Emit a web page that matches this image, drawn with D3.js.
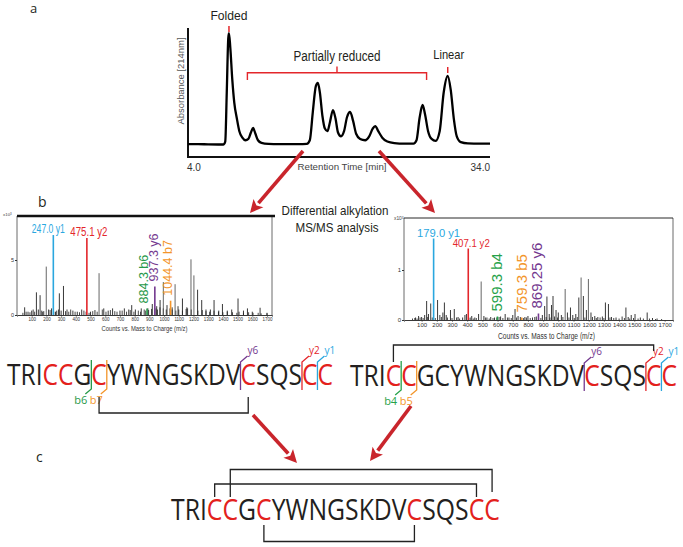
<!DOCTYPE html>
<html><head><meta charset="utf-8">
<script src="https://cdn.jsdelivr.net/npm/d3@7"></script>
<style>body{margin:0;background:#fff}svg{display:block}</style>
</head><body>
<svg id="fig" width="683" height="547"></svg>
<script>
// ---------------- DATA ----------------
// Panel a: chromatogram trace (retention time [min], absorbance, relative)
const chromTime = [4,5,6,7,7.5,7.7,7.85,8.0,8.07,8.2,8.4,8.6,8.85,9.1,9.4,9.7,10.0,10.25,10.46,10.7,10.95,11.3,12,13,14,15,15.8,16.1,16.4,16.7,16.9,17.1,17.35,17.6,17.85,18.1,18.4,18.65,18.9,19.2,19.5,19.8,20.1,20.4,20.7,21.1,21.6,22.0,22.35,22.6,22.9,23.3,23.8,24.5,25.5,26.4,26.7,27.0,27.3,27.55,27.85,28.2,28.6,29.0,29.4,29.8,30.1,30.4,30.7,31.1,31.8,33,34];
const chromAbs  = [0.10,0.10,0.098,0.097,0.097,0.12,0.5,0.92,0.96,0.85,0.6,0.42,0.3,0.2,0.15,0.13,0.14,0.19,0.225,0.18,0.13,0.11,0.102,0.10,0.10,0.10,0.102,0.13,0.35,0.55,0.574,0.5,0.32,0.22,0.2,0.27,0.364,0.3,0.19,0.16,0.2,0.31,0.349,0.28,0.18,0.14,0.13,0.16,0.22,0.24,0.2,0.15,0.12,0.108,0.104,0.104,0.13,0.3,0.403,0.33,0.2,0.14,0.125,0.2,0.5,0.628,0.52,0.3,0.16,0.115,0.105,0.103,0.103];
const chromTickLabels = ["4.0","34.0"];
const foldedTime = 8.07, linearTime = 29.8, partialRange = [9.9, 27.7];

// Panel b: MS/MS spectra (m/z, counts x10^3)
const leftPeakMz = [52,75,100,132,145,157,175,199,215,235,262,288,300,316,340,380,410,440,500,530,558,590,620,650,700,730,760,780,805,845,890,920,950,973,995,1020,1055,1075,1095,1125,1155,1183,1203,1228,1256,1285,1315,1340,1372,1397,1430,1460,1503,1540,1567,1600,1653,1700];
const leftPeakH  = [0.7,0.3,0.4,2.06,0.5,1.8,0.3,4.4,0.5,0.6,0.3,1.97,0.4,2.64,0.5,0.4,0.3,0.5,0.3,0.45,3.8,0.6,0.4,0.6,0.4,0.6,0.5,0.9,0.5,0.6,0.6,1.0,0.8,1.36,3.0,0.9,0.7,2.8,0.8,1.5,0.7,5.06,3.6,2.3,1.36,0.5,0.5,1.36,0.4,1.0,0.4,0.5,1.5,0.4,0.6,0.3,0.66,0.2];
const leftNoiseMz = [40,62,88,110,120,168,182,225,250,270,282,330,352,365,395,425,455,470,490,515,545,580,605,635,665,680,715,745,770,795,825,840,865,875,895,915,945,955,972,995,1015,1040,1055,1080,1100,1125,1150,1160,1185,1230,1260,1285,1310,1340,1370,1400,1430,1465,1495,1510,1540,1575,1605,1640,1660,1700];
const leftNoiseH  = [0.2,0.3,0.25,0.5,0.3,0.4,0.35,0.45,0.3,0.4,0.5,0.35,0.3,0.5,0.3,0.25,0.4,0.3,0.2,0.35,0.3,0.5,0.3,0.45,0.35,0.3,0.4,0.3,0.45,0.3,0.4,0.3,0.5,0.4,0.45,0.55,0.6,0.5,0.7,0.6,0.5,0.6,0.5,0.4,0.5,0.4,0.55,0.6,0.5,0.4,0.45,0.35,0.3,0.4,0.3,0.25,0.3,0.25,0.2,0.3,0.2,0.25,0.2,0.2,0.15,0.15];
const leftIonMz    = [247.0, 475.1, 884.3, 937.3, 1044.4];
const leftIonH     = [7.27, 7.0, 0.6, 2.6, 1.3];
const leftIonName  = ["y1","y2","b6","y6","b7"];
const leftIonLabel = ["247.0 y1","475.1 y2","884.3 b6","937.3 y6","1044.4 b7"];

const rightPeakMz = [60,80,100,120,133,145,160,205,220,240,250,262,290,315,340,370,385,395,430,450,475,492,510,530,555,580,620,650,675,700,715,735,780,800,830,855,895,910,925,940,955,965,985,1000,1020,1045,1060,1080,1095,1115,1135,1150,1165,1185,1198,1215,1240,1260,1290,1310,1330,1350,1380,1420,1445,1460,1480,1505,1540,1585,1620,1650];
const rightPeakH  = [0.05,0.08,0.06,0.1,0.38,0.12,0.33,0.4,0.1,0.15,0.35,0.1,0.2,0.22,0.06,0.05,0.1,0.12,0.08,0.05,0.12,0.77,0.08,0.05,0.06,0.05,0.07,0.12,0.05,0.1,0.22,0.08,0.06,0.08,0.05,0.07,0.1,0.28,0.47,0.12,0.3,0.48,0.2,0.15,0.1,0.62,0.15,0.25,0.1,0.12,0.45,0.85,0.48,0.2,0.82,0.15,0.08,0.06,0.07,0.35,0.32,0.06,0.05,0.07,0.25,0.06,0.1,0.12,0.05,0.15,0.04,0.03];
const rightNoiseMz = [40,55,70,90,110,140,170,190,230,270,300,330,350,410,420,440,460,520,545,570,595,610,635,665,690,725,750,770,790,815,845,870,885,920,945,975,995,1030,1070,1105,1125,1175,1225,1250,1275,1300,1340,1365,1400,1435,1470,1495,1525,1560,1600,1640,1680];
const rightNoiseH  = [0.03,0.04,0.03,0.05,0.04,0.06,0.05,0.04,0.06,0.05,0.04,0.05,0.03,0.04,0.05,0.03,0.04,0.05,0.03,0.04,0.05,0.06,0.04,0.05,0.04,0.05,0.06,0.04,0.05,0.04,0.06,0.05,0.04,0.06,0.05,0.07,0.05,0.06,0.05,0.04,0.06,0.05,0.06,0.04,0.05,0.04,0.05,0.04,0.03,0.04,0.03,0.04,0.03,0.03,0.03,0.02,0.02];
const rightIonMz    = [179.0, 407.1, 599.3, 759.3, 869.25];
const rightIonH     = [1.63, 1.43, 0.07, 0.05, 0.13];
const rightIonName  = ["y1","y2","b4","b5","y6"];
const rightIonLabel = ["179.0 y1","407.1 y2","599.3 b4","759.3 b5","869.25 y6"];

const mzTicks = [100,200,300,400,500,600,700,800,900,1000,1100,1200,1300,1400,1500,1600,1700];
const leftYTicks = [0,5], rightYTicks = [0,1];

// Peptide sequence and fragments
const sequence = "TRICCGCYWNGSKDVCSQSCC";
const leftRed  = [3,4,6,15,19,20];
const rightRed = [3,4,15,19,20];
const bottomRed = [3,4,6,15,19,20];
const leftFragIon   = ["b6","b7","y6","y2","y1"];
const leftFragAfter = [5,6,14,18,19];
const rightFragIon   = ["b4","b5","y6","y2","y1"];
const rightFragAfter = [3,4,14,18,19];
const leftBonds   = [[6,15]];
const rightBonds  = [[3,19]];
const bottomBondsAbove = [[4,20],[3,19]];
const bottomBondsBelow = [[6,15]];

// ---------------- STYLE ----------------
const ionColor = {y1:"#2aa7df", y2:"#e3262b", y6:"#74398f", b4:"#27a24a", b5:"#f3952a", b6:"#27994a", b7:"#f3952a"};
const seqRed = "#e3211c", arrowRed = "#c9252c", annRed = "#e3262b", ink = "#231f20";
const FONT = "'Liberation Sans', Arial, sans-serif";
const SEQFONT = "'Open Sans', 'Liberation Sans', sans-serif";

const svg = d3.select("#fig");
svg.append("rect").attr("width",683).attr("height",547).attr("fill","#fff");

function txt(x,y,s,opt={}) {
  const t = svg.append("text").attr("x",x).attr("y",y).text(s)
    .style("font-family", opt.family||FONT).style("font-size",(opt.size||10)+"px")
    .attr("fill", opt.fill||ink).attr("text-anchor", opt.anchor||"start");
  if (opt.len) t.attr("textLength",opt.len).attr("lengthAdjust","spacingAndGlyphs");
  if (opt.rot) t.attr("transform",`rotate(${opt.rot},${x},${y})`);
  return t;
}

// panel labels
txt(30,13,"a",{size:13,family:SEQFONT});
txt(38,207,"b",{size:14,family:SEQFONT});
txt(36,462,"c",{size:14,family:SEQFONT});

// ---------------- PANEL A ----------------
const xT = d3.scaleLinear().domain([4,34]).range([188,490]);
const yA = d3.scaleLinear().domain([0,1]).range([157,28]);
svg.append("line").attr("x1",188).attr("x2",188).attr("y1",yA(1)).attr("y2",yA(0)).attr("stroke","#111").attr("stroke-width",2);
svg.append("line").attr("x1",187).attr("x2",xT(34)).attr("y1",yA(0)).attr("y2",yA(0)).attr("stroke","#111").attr("stroke-width",2);
const chromPts = chromTime.map((t,i)=>[t,chromAbs[i]]);
svg.append("path").datum(chromPts)
  .attr("d", d3.line().x(d=>xT(d[0])).y(d=>yA(d[1])).curve(d3.curveMonotoneX))
  .attr("fill","none").attr("stroke","#000").attr("stroke-width",2.3).attr("stroke-linejoin","round");
txt(xT(4)-1,171,chromTickLabels[0],{size:10,fill:"#333"});
txt(xT(34),171,chromTickLabels[1],{size:10,fill:"#333",anchor:"end"});
txt(342,170,"Retention Time [min]",{size:9.5,fill:"#444",anchor:"middle",len:89});
txt(184,81,"Absorbance [214nm]",{size:9.5,fill:"#555",anchor:"middle",len:87,rot:-90});
// annotations
txt(xT(foldedTime),20,"Folded",{size:13,anchor:"middle",len:37});
svg.append("line").attr("x1",xT(foldedTime)).attr("x2",xT(foldedTime)).attr("y1",26).attr("y2",32).attr("stroke",annRed).attr("stroke-width",1.5);
txt(xT(linearTime)+1,59,"Linear",{size:13,anchor:"middle",len:31});
svg.append("line").attr("x1",xT(linearTime)).attr("x2",xT(linearTime)).attr("y1",67).attr("y2",73).attr("stroke",annRed).attr("stroke-width",1.5);
const pr0 = xT(partialRange[0]), pr1 = xT(partialRange[1]), prm=(pr0+pr1)/2;
txt(prm,61,"Partially reduced",{size:14,anchor:"middle",len:87});
svg.append("path").attr("d",`M${pr0},80V72.7H${pr1}V80M${prm},72.7V66.5`).attr("fill","none").attr("stroke",annRed).attr("stroke-width",1.4);

// ---------------- ARROWS ----------------
function arrow(x1,y1,x2,y2){
  const a = Math.atan2(y2-y1,x2-x1), L=13, Wd=6.5;
  const bx = x2 - L*Math.cos(a), by = y2 - L*Math.sin(a);
  svg.append("line").attr("x1",x1).attr("y1",y1).attr("x2",bx).attr("y2",by).attr("stroke",arrowRed).attr("stroke-width",3.6);
  const p = [[x2,y2],[bx+Wd*Math.sin(a),by-Wd*Math.cos(a)],[bx+3*Math.cos(a),by+3*Math.sin(a)],[bx-Wd*Math.sin(a),by+Wd*Math.cos(a)]];
  svg.append("path").attr("d","M"+p.map(q=>q.join(",")).join("L")+"Z").attr("fill",arrowRed);
}
arrow(303,151,250,213);
arrow(379,151,435,213);
arrow(253,415,297,463);
arrow(411,406,370,461);

// ---------------- PANEL B: spectra ----------------
function spectrum(cfg){
  const x = d3.scaleLinear().domain(cfg.xd).range([cfg.x0,cfg.x1]);
  const y = d3.scaleLinear().domain([0,cfg.ymax]).range([cfg.y0,cfg.yTop]);
  svg.append("line").attr("x1",cfg.x0).attr("x2",cfg.x0).attr("y1",cfg.yTop).attr("y2",cfg.y0).attr("stroke","#444").attr("stroke-width",0.8);
  svg.append("line").attr("x1",cfg.x1).attr("x2",cfg.x1).attr("y1",cfg.yTop).attr("y2",cfg.y0).attr("stroke","#444").attr("stroke-width",0.8);
  svg.append("line").attr("x1",cfg.x0).attr("x2",cfg.topEnd).attr("y1",cfg.yTop).attr("y2",cfg.yTop).attr("stroke","#111").attr("stroke-width",cfg.topW);
  const g = svg.append("g");
  g.selectAll(".n").data(cfg.noiseMz).join("line").attr("x1",d=>x(d)).attr("x2",d=>x(d))
    .attr("y1",y(0)).attr("y2",(d,i)=>y(cfg.noiseH[i])).attr("stroke","#333").attr("stroke-width",0.9);
  g.selectAll(".p").data(cfg.peakMz).join("line").attr("x1",d=>x(d)).attr("x2",d=>x(d))
    .attr("y1",y(0)).attr("y2",(d,i)=>y(cfg.peakH[i])).attr("stroke",(d,i)=>cfg.peakH[i]>cfg.ymax*0.3?"#555":"#222").attr("stroke-width",0.9);
  cfg.ionMz.forEach((mz,i)=>{
    const c = ionColor[cfg.ionName[i]];
    svg.append("line").attr("x1",x(mz)).attr("x2",x(mz)).attr("y1",y(0)).attr("y2",y(cfg.ionH[i])).attr("stroke",c).attr("stroke-width",1.6);
    const horiz = cfg.ionName[i]==="y1"||cfg.ionName[i]==="y2";
    if (horiz) {
      const t = txt(x(mz)+cfg.hOff[i], y(cfg.ionH[i])-2, cfg.ionLabel[i], {size:cfg.hSize, fill:c, anchor:"middle"});
      if (cfg.hLen) t.attr("textLength",cfg.hLen[i]).attr("lengthAdjust","spacingAndGlyphs");
    } else {
      txt(x(mz)+cfg.rOff[i], y(cfg.ionH[i])-5, cfg.ionLabel[i], {size:cfg.rSize, fill:c, rot:-90});
    }
  });
  const ax = svg.append("g").attr("transform",`translate(0,${cfg.y0})`)
    .call(d3.axisBottom(x).tickValues(mzTicks).tickSize(1.5).tickPadding(1).tickFormat(d3.format("d")));
  ax.select(".domain").attr("stroke","#222").attr("stroke-width",0.9);
  ax.selectAll("text").style("font-size",cfg.tickSize+"px").style("font-family",FONT).attr("fill","#333");
  ax.selectAll("line").attr("stroke","#333");
  const ay = svg.append("g").attr("transform",`translate(${cfg.x0},0)`)
    .call(d3.axisLeft(y).tickValues(cfg.yTicks).tickSize(2).tickPadding(1).tickFormat(d3.format("d")));
  ay.select(".domain").remove();
  ay.selectAll("text").style("font-size",cfg.yTickSize+"px").style("font-family",FONT).attr("fill","#333");
  ay.selectAll("line").attr("stroke","#333");
  const e = txt(cfg.x0+cfg.expOff, cfg.yTop+cfg.expDy, "x10", {size:cfg.yTickSize*0.8, fill:"#444"});
  e.append("tspan").text("3").attr("dy",-1.5).style("font-size",(cfg.yTickSize*0.55)+"px");
  txt((cfg.x0+cfg.x1)/2+cfg.labOff, cfg.labY, "Counts vs. Mass to Charge (m/z)", {size:cfg.labSize, fill:"#333", anchor:"middle", len:cfg.labLen});
}
spectrum({xd:[0,1734],x0:17,x1:272,topEnd:275,topW:2.6,y0:315,yTop:216,ymax:9,
  peakMz:leftPeakMz,peakH:leftPeakH,noiseMz:leftNoiseMz,noiseH:leftNoiseH,
  ionMz:leftIonMz,ionH:leftIonH,ionName:leftIonName,ionLabel:leftIonLabel,
  hOff:[-5,2],hSize:12,hLen:[33,37],rOff:[0.5,3.5,1,3.5,1],rSize:12.5,yTicks:leftYTicks,tickSize:4.5,yTickSize:5.5,
  expOff:-14,expDy:0,labY:331,labSize:7,labLen:86,labOff:0});
spectrum({xd:[-16,1755],x0:404,x1:673,topEnd:673,topW:0.9,y0:320,yTop:218,ymax:2.04,
  peakMz:rightPeakMz,peakH:rightPeakH,noiseMz:rightNoiseMz,noiseH:rightNoiseH,
  ionMz:rightIonMz,ionH:rightIonH,ionName:rightIonName,ionLabel:rightIonLabel,
  hOff:[5,3],hSize:11.5,hLen:[43,37],rOff:[0,0,5,5,4],rSize:15,yTicks:rightYTicks,tickSize:6,yTickSize:6,
  expOff:-10,expDy:2,labY:339,labSize:8.5,labLen:97,labOff:8});

txt(335,215,"Differential alkylation",{size:13.5,anchor:"middle",len:107});
txt(337,232,"MS/MS analysis",{size:13.5,anchor:"middle",len:83});

// ---------------- SEQUENCES ----------------
function drawSeq(x0,x1,base,red){
  const t = svg.append("text").attr("x",0).attr("y",0)
    .style("font-family",SEQFONT).style("font-size","30px");
  sequence.split("").forEach((ch,i)=>t.append("tspan").text(ch).attr("fill", red.includes(i)?seqRed:ink));
  const n = t.node(), w = n.getComputedTextLength(), sx=(x1-x0)/w;
  t.attr("transform",`translate(${x0},${base}) scale(${sx},1)`);
  return sequence.split("").map((_,i)=>{
    const s=n.getStartPositionOfChar(i).x, e=n.getEndPositionOfChar(i).x;
    return {l:x0+sx*s, r:x0+sx*e, c:x0+sx*(s+e)/2};
  });
}
function fragments(pos,base,ions,after){
  ions.forEach((ion,k)=>{
    const i=after[k], x=(pos[i].r+pos[i+1].l)/2, c=ionColor[ion];
    if (ion[0]==="b"){
      svg.append("path").attr("d",`M${x},${base-25}V${base+4}L${x-6},${base+9}`).attr("fill","none").attr("stroke",c).attr("stroke-width",1.3);
      txt(x-4,base+19,ion,{size:11,fill:c,anchor:"end",family:SEQFONT});
    } else {
      svg.append("path").attr("d",`M${x},${base+5}V${base-23}L${x+7},${base-29}`).attr("fill","none").attr("stroke",c).attr("stroke-width",1.3);
      txt(x+7,base-31,ion,{size:10,fill:c,family:SEQFONT});
    }
  });
}
function bond(pos,a,b,yEnd1,yEnd2,yBar){
  svg.append("path").attr("d",`M${pos[a].c},${yEnd1}V${yBar}H${pos[b].c}V${yEnd2}`)
    .attr("fill","none").attr("stroke","#222").attr("stroke-width",1.3);
}
const pL = drawSeq(7,333,385,leftRed);
fragments(pL,385,leftFragIon,leftFragAfter);
leftBonds.forEach(b=>bond(pL,b[0],b[1],397,397,413));

const pR = drawSeq(350,677,386,rightRed);
fragments(pR,386,rightFragIon,rightFragAfter);
rightBonds.forEach(b=>bond(pR,b[0],b[1],362,351,345));

const pB = drawSeq(171,500,520,bottomRed);
bond(pB,bottomBondsAbove[0][0],bottomBondsAbove[0][1],497,492,469.5);
bond(pB,bottomBondsAbove[1][0],bottomBondsAbove[1][1],497,497,484);
bottomBondsBelow.forEach(b=>bond(pB,b[0],b[1],525,525,541.5));
</script>
</body></html>
